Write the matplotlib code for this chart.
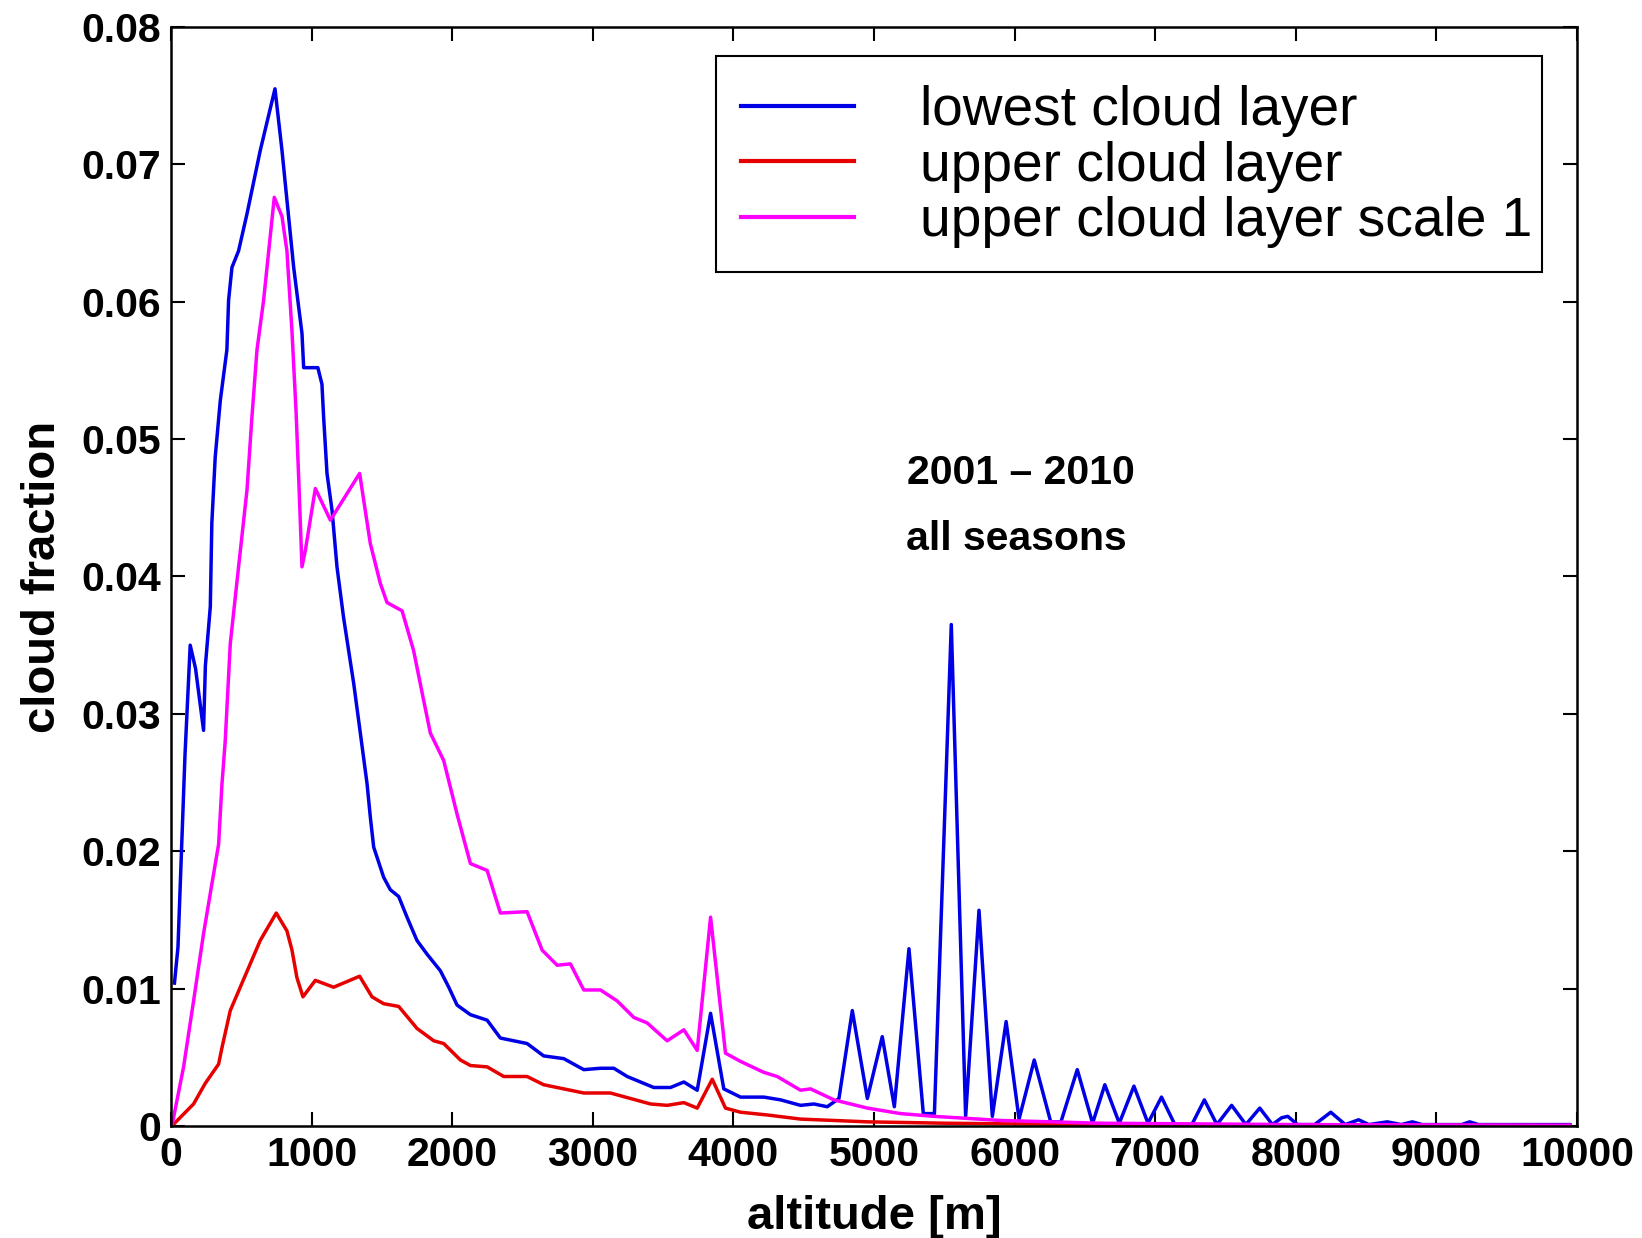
import matplotlib
matplotlib.use("Agg")
import matplotlib.pyplot as plt
from matplotlib.patches import Rectangle
from matplotlib.ticker import FuncFormatter, MultipleLocator

plt.rcParams["font.family"] = ["Liberation Sans", "DejaVu Sans"]

# Cloud fraction profiles versus altitude (m)
lowest_alt = [25, 50, 100, 137, 175, 232, 245, 280, 291, 315, 351, 398, 410, 434, 481, 541,
              635, 740, 790, 825, 873, 932, 944, 1045, 1074, 1086, 1110, 1146, 1181, 1228,
              1300, 1347, 1395, 1418, 1442, 1513, 1560, 1620, 1679, 1750, 1822, 1916, 1976,
              2035, 2130, 2249, 2343, 2533, 2651, 2794, 2936, 3055, 3150, 3245, 3434, 3553,
              3648, 3743, 3838, 3932, 4051, 4217, 4336, 4478, 4573, 4668, 4751, 4846, 4953,
              5059, 5145, 5249, 5351, 5430, 5550, 5652, 5747, 5842, 5940, 6032, 6140, 6257,
              6330, 6446, 6555, 6642, 6745, 6849, 6949, 7045, 7140, 7261, 7350, 7439, 7544,
              7645, 7744, 7834, 7900, 7943, 8012, 8134, 8249, 8352, 8447, 8520, 8651, 8750,
              8829, 8900, 9180, 9237, 9300, 9950]
lowest_frac = [0.0104, 0.013, 0.027, 0.035, 0.0333, 0.0288, 0.0335, 0.0378, 0.0439, 0.0487,
               0.0528, 0.0565, 0.0601, 0.0625, 0.0637, 0.0664, 0.071, 0.0755, 0.071, 0.0674,
               0.0625, 0.0577, 0.0552, 0.0552, 0.054, 0.0516, 0.0475, 0.0448, 0.0407, 0.037,
               0.0322, 0.0286, 0.0249, 0.0225, 0.0203, 0.0181, 0.0172, 0.0167, 0.0152, 0.0135,
               0.0125, 0.0113, 0.0101, 0.0088, 0.0081, 0.0077, 0.0064, 0.006, 0.0051, 0.0049,
               0.0041, 0.0042, 0.0042, 0.0036, 0.0028, 0.0028, 0.0032, 0.0026, 0.0082, 0.0027,
               0.0021, 0.0021, 0.0019, 0.0015, 0.0016, 0.0014, 0.002, 0.0084, 0.002, 0.0065,
               0.0014, 0.0129, 0.0009, 0.0009, 0.0365, 0.0007, 0.0157, 0.0007, 0.0076, 0.0005,
               0.0048, 0.0003, 0.0003, 0.0041, 0.0002, 0.003, 0.0002, 0.0029, 0.0002, 0.0021,
               0.0001, 0.0001, 0.0019, 0.0001, 0.0015, 0.0001, 0.0013, 0.0001, 0.0006, 0.0007,
               0.0001, 0.0001, 0.001, 0.0001, 0.00045, 0.0001, 0.0003, 0.0001, 0.0003, 0.0001,
               0.0001, 0.0003, 0.0001, 0.0001]

upper_alt = [7, 161, 244, 339, 363, 422, 493, 564, 635, 749, 825, 861, 896, 939, 1027, 1157,
             1342, 1430, 1513, 1620, 1750, 1869, 1940, 2059, 2130, 2249, 2367, 2533, 2651,
             2841, 2936, 3126, 3268, 3411, 3529, 3648, 3743, 3850, 3944, 4051, 4241, 4478,
             4953, 5500, 6500, 9950]
upper_frac = [0.0, 0.0016, 0.0031, 0.0045, 0.0057, 0.0084, 0.0101, 0.0118, 0.0135, 0.0155,
              0.0142, 0.0128, 0.0108, 0.0094, 0.0106, 0.0101, 0.0109, 0.0094, 0.0089, 0.0087,
              0.0071, 0.0062, 0.006, 0.0048, 0.0044, 0.0043, 0.0036, 0.0036, 0.003, 0.0026,
              0.0024, 0.0024, 0.002, 0.0016, 0.0015, 0.0017, 0.0013, 0.0034, 0.0013, 0.001,
              0.0008, 0.0005, 0.0003, 0.0002, 0.0001, 0.00003]

scaled_alt = [7, 90, 161, 232, 291, 339, 363, 386, 422, 481, 541, 576, 612, 659, 735, 790, 825,
              860, 890, 910, 932, 956, 1027, 1134, 1342, 1418, 1489, 1537, 1644, 1726, 1797,
              1845, 1940, 2035, 2130, 2249, 2343, 2533, 2640, 2747, 2841, 2936, 3055, 3174,
              3292, 3387, 3529, 3648, 3743, 3838, 3944, 4051, 4217, 4312, 4478, 4549, 4715,
              4953, 5190, 5427, 5901, 6612, 8000, 9950]
scaled_frac = [0.0, 0.0043, 0.0091, 0.014, 0.0176, 0.0205, 0.0249, 0.028, 0.0351, 0.0407,
               0.0463, 0.0516, 0.0565, 0.0601, 0.0676, 0.0662, 0.0637, 0.058, 0.052, 0.0468,
               0.0407, 0.0419, 0.0464, 0.0441, 0.0475, 0.0424, 0.0395, 0.0381, 0.0375, 0.0346,
               0.031, 0.0286, 0.0266, 0.0227, 0.0191, 0.0186, 0.0155, 0.0156, 0.0128, 0.0117,
               0.0118, 0.0099, 0.0099, 0.0091, 0.0079, 0.0075, 0.0062, 0.007, 0.0055, 0.0152,
               0.0053, 0.0047, 0.0039, 0.0036, 0.0026, 0.0027, 0.0019, 0.0013, 0.0009, 0.0007,
               0.0004, 0.0002, 0.0001, 0.00005]

series_labels = ["lowest cloud layer", "upper cloud layer", "upper cloud layer scale 1"]
series_colors = ["#0000E6", "#E60000", "#FF00FF"]

x_ticks = list(range(0, 10001, 1000))

fig = plt.figure(figsize=(16.42, 12.38), dpi=100)
ax = fig.add_axes([0.1041, 0.0905, 0.8563, 0.8877])

lw = 2.5
ax.plot(lowest_alt, lowest_frac, color=series_colors[0], lw=lw, label=series_labels[0])
ax.plot(upper_alt, upper_frac, color=series_colors[1], lw=lw, label=series_labels[1])
ax.plot(scaled_alt, scaled_frac, color=series_colors[2], lw=lw, label=series_labels[2])

ax.set_xlim(0, 10000)
ax.set_ylim(0, 0.08)
ax.set_xticks(x_ticks)
ax.yaxis.set_major_locator(MultipleLocator(0.01))
ax.yaxis.set_major_formatter(FuncFormatter(lambda v, p: "0" if abs(v) < 1e-12 else f"{v:.2f}"))

ax.tick_params(direction="in", top=True, right=True, length=10, width=1.5,
               labelsize=29.5, pad=7)
for lab in ax.get_xticklabels() + ax.get_yticklabels():
    lab.set_fontweight("bold")
for sp in ax.spines.values():
    sp.set_linewidth(1.8)

ax.set_xlabel("altitude [m]", fontsize=34, fontweight="bold", labelpad=15)
ax.set_ylabel("cloud fraction", fontsize=34, fontweight="bold", labelpad=12)

ax.text(5232, 0.0475, "2001 \u2013 2010", fontsize=29.5, fontweight="bold",
        ha="left", va="center")
ax.text(5225, 0.0427, "all seasons", fontsize=29.5, fontweight="bold",
        ha="left", va="center")

# Legend entries without their own frame; a separate box with wider
# vertical margins is drawn behind them.
leg = ax.legend(loc="upper right", bbox_to_anchor=(0.976, 0.957), fontsize=39.6,
                frameon=False, handlelength=2.05, handletextpad=1.2, borderpad=0.2,
                labelspacing=0.06, borderaxespad=0.0)
leg.set_zorder(6)
for line in leg.get_lines():
    line.set_linewidth(3.0)

frame = Rectangle((0.3874, 0.7772), 0.9752 - 0.3874, 0.9734 - 0.7772,
                  transform=ax.transAxes, facecolor="white", edgecolor="black",
                  linewidth=1.5, zorder=5)
ax.add_patch(frame)

fig.savefig("out.png", dpi=100)
